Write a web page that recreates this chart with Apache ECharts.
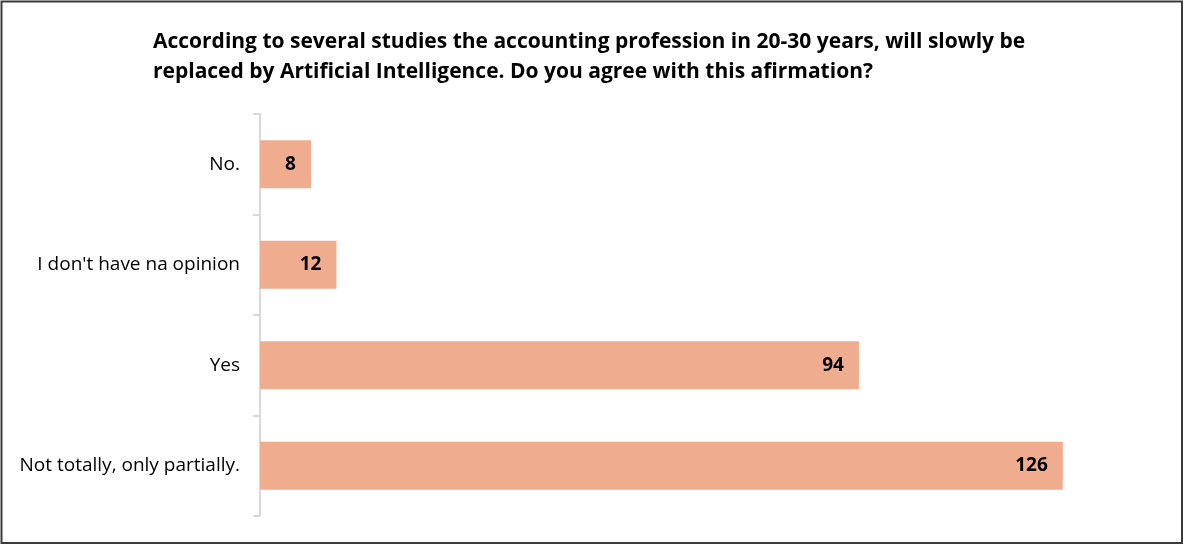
<!DOCTYPE html>
<html>
<head>
<meta charset="utf-8">
<script src="https://cdn.jsdelivr.net/npm/echarts@6/dist/echarts.min.js"></script>
<style>
  html, body { margin: 0; padding: 0; background: #fff; }
  #chart { width: 1184px; height: 545px; }
</style>
</head>
<body>
<div id="chart"></div>
<script>
// Survey answers, listed top to bottom
const categories = ['No.', "I don't have na opinion", 'Yes', 'Not totally, only partially.'];
const responses = [8, 12, 94, 126];
const titleLines = [
  'According to several studies the accounting profession in 20-30 years, will slowly be',
  'replaced by Artificial Intelligence. Do you agree with this afirmation?'
];

const chart = echarts.init(document.getElementById('chart'));
chart.setOption({
  animation: false,
  backgroundColor: '#ffffff',
  title: {
    text: titleLines.join('\n'),
    left: 153,
    top: 27,
    padding: 0,
    textStyle: {
      fontFamily: 'Open Sans',
      fontWeight: 'bold',
      fontSize: 21,
      lineHeight: 30,
      color: '#000000'
    }
  },
  graphic: [{
    type: 'rect',
    shape: { x: 1.5, y: 1.5, width: 1180.5, height: 541.5 },
    style: { fill: 'none', stroke: '#3a3a3a', lineWidth: 2 },
    silent: true
  }],
  grid: { left: 260, top: 114, width: 892, height: 402 },
  xAxis: {
    type: 'value',
    min: 0,
    max: 140,
    show: false
  },
  yAxis: {
    type: 'category',
    data: categories,
    inverse: true,
    axisLine: { show: true, lineStyle: { color: '#d9d9d9', width: 2 } },
    axisTick: { show: true, length: 7, lineStyle: { color: '#d9d9d9', width: 2 } },
    axisLabel: {
      margin: 20,
      fontFamily: 'Open Sans',
      fontSize: 19,
      color: '#000000'
    }
  },
  series: [{
    type: 'bar',
    data: responses,
    barWidth: 48,
    itemStyle: { color: '#f0ac8f' },
    label: {
      show: true,
      position: 'insideRight',
      distance: 15,
      fontFamily: 'Open Sans',
      fontWeight: 'bold',
      fontSize: 19,
      color: '#000000'
    }
  }]
});
</script>
</body>
</html>
